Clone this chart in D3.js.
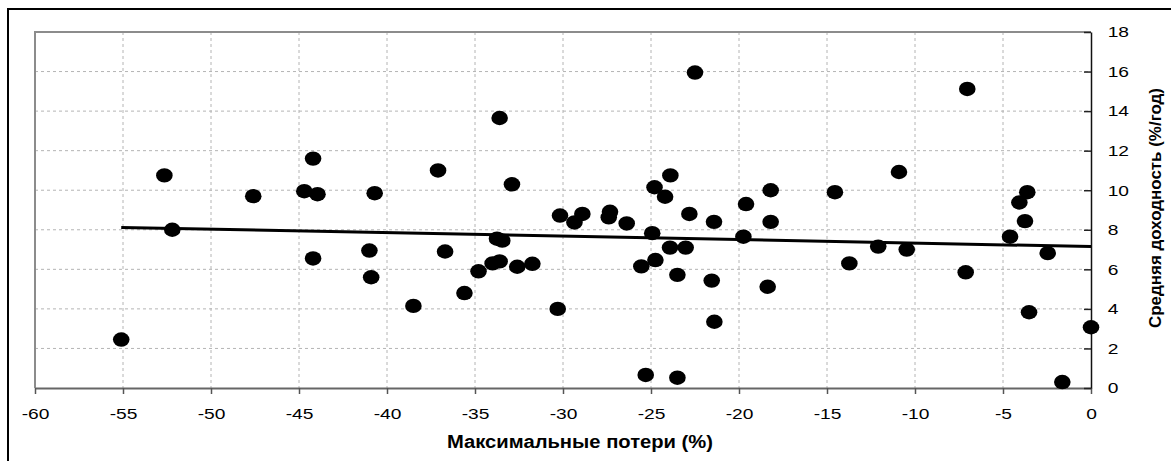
<!DOCTYPE html>
<html>
<head>
<meta charset="utf-8">
<script src="https://cdn.jsdelivr.net/npm/d3@7"></script>
<style>
  body { margin: 0; background: #fff; }
  text { font-family: "Liberation Sans", Arial, sans-serif; }
</style>
</head>
<body>
<div class="chart_wrapper"></div>
<script>
// max drawdown (%) and average return (%/year) per fund
var drawdown = [-55.1, -52.65, -52.2, -47.6, -44.7, -44.2, -43.95, -44.2, -40.7, -41.0,
  -40.9, -38.5, -37.1, -36.7, -35.6, -34.8, -33.6, -32.9, -33.75, -33.45,
  -34.0, -33.6, -32.6, -31.74, -30.3, -30.17, -29.35, -28.9, -27.33, -27.4,
  -26.38, -24.8, -23.9, -24.2, -22.5, -22.82, -24.93, -23.92, -23.03, -25.55,
  -24.75, -23.5, -21.42, -21.55, -21.4, -25.3, -23.5, -19.6, -19.75, -18.2,
  -18.2, -18.37, -14.55, -13.73, -12.09, -10.91, -10.47, -7.03, -7.12, -4.6,
  -4.07, -3.62, -3.75, -3.52, -2.46, -1.63, 0];
var avgReturn = [2.45, 10.75, 8.0, 9.7, 9.95, 11.6, 9.8, 6.55, 9.85, 6.95,
  5.6, 4.15, 11.0, 6.9, 4.8, 5.9, 13.65, 10.3, 7.55, 7.45,
  6.3, 6.4, 6.13, 6.28, 4.0, 8.72, 8.37, 8.8, 8.91, 8.63,
  8.32, 10.15, 10.75, 9.67, 15.95, 8.8, 7.83, 7.1, 7.1, 6.15,
  6.47, 5.72, 8.4, 5.43, 3.35, 0.66, 0.52, 9.3, 7.65, 10.0,
  8.4, 5.12, 9.9, 6.3, 7.15, 10.92, 7.0, 15.12, 5.85, 7.65,
  9.38, 9.9, 8.44, 3.83, 6.82, 0.3, 3.07];
var trendX = [-55.1, 0];
var trendY = [8.12, 7.15];
var xTicks = [-60, -55, -50, -45, -40, -35, -30, -25, -20, -15, -10, -5, 0];
var yTicks = [0, 2, 4, 6, 8, 10, 12, 14, 16, 18];

var width = 1171;
var height = 461;

var svg = d3.select('.chart_wrapper').append('svg')
  .attr('width', width).attr('height', height);

var x = d3.scaleLinear().domain([-60, 0]).range([35, 1091]);
var y = d3.scaleLinear().domain([0, 18]).range([388, 32]);

// outer frame
svg.append('rect').attr('x', 8).attr('y', 9).attr('width', width).attr('height', height)
  .attr('fill', 'none').attr('stroke', '#000').attr('stroke-width', 2);

// grid
svg.append('g').selectAll('line').data(xTicks.slice(1, -1)).enter().append('line')
  .attr('x1', function (d) { return x(d); }).attr('x2', function (d) { return x(d); })
  .attr('y1', y(18)).attr('y2', y(0))
  .attr('stroke', '#b4b4b4').attr('stroke-dasharray', '3,3');
svg.append('g').selectAll('line').data(yTicks.slice(1, -1)).enter().append('line')
  .attr('x1', x(-60)).attr('x2', x(0))
  .attr('y1', function (d) { return y(d); }).attr('y2', function (d) { return y(d); })
  .attr('stroke', '#b4b4b4').attr('stroke-dasharray', '3,3');

// plot box top and left
svg.append('path')
  .attr('d', 'M' + x(-60) + ',' + y(0) + 'V' + y(18) + 'H' + x(0))
  .attr('fill', 'none').attr('stroke', '#8c8c8c').attr('stroke-width', 2);

// x axis
var xAxis = svg.append('g').attr('transform', 'translate(0,' + y(0) + ')')
  .call(d3.axisBottom(x).tickValues(xTicks).tickSize(6).tickSizeOuter(0).tickPadding(14)
    .tickFormat(function (d) { return String(d); }));
xAxis.select('.domain').attr('stroke', '#666').attr('stroke-width', 2);
xAxis.selectAll('.tick line').attr('stroke', '#555').attr('stroke-width', 1.5);
xAxis.selectAll('.tick text').attr('font-size', 15).attr('fill', '#000')
  .attr('transform', 'scale(1.28,1)').attr('font-family', '"Liberation Sans", Arial, sans-serif');

// y axis on the right, ticks inward
var yAxis = svg.append('g').attr('transform', 'translate(' + x(0) + ',0)')
  .call(d3.axisRight(y).tickValues(yTicks).tickSize(-7).tickSizeOuter(0).tickPadding(13));
yAxis.select('.domain').attr('stroke', '#111').attr('stroke-width', 1.5);
yAxis.selectAll('.tick line').attr('stroke', '#222').attr('stroke-width', 1.5);
yAxis.selectAll('.tick text').attr('font-size', 15).attr('fill', '#000')
  .attr('transform', 'scale(1.28,1)').attr('font-family', '"Liberation Sans", Arial, sans-serif');

// trend line
svg.append('line')
  .attr('x1', x(trendX[0])).attr('y1', y(trendY[0]))
  .attr('x2', x(trendX[1])).attr('y2', y(trendY[1]))
  .attr('stroke', '#000').attr('stroke-width', 3);

// points
svg.append('g').selectAll('ellipse').data(drawdown).enter().append('ellipse')
  .attr('cx', function (d) { return x(d); })
  .attr('cy', function (d, i) { return y(avgReturn[i]); })
  .attr('rx', 8.3).attr('ry', 7.2)
  .attr('fill', '#000');

// axis titles
svg.append('text').attr('x', 580).attr('y', 448)
  .attr('text-anchor', 'middle').attr('font-weight', 'bold').attr('font-size', 18)
  .attr('textLength', 266).attr('lengthAdjust', 'spacingAndGlyphs')
  .text('Максимальные потери (%)');

svg.append('text')
  .attr('transform', 'translate(1161,208) rotate(-90)')
  .attr('text-anchor', 'middle').attr('font-weight', 'bold').attr('font-size', 17)
  .attr('textLength', 240).attr('lengthAdjust', 'spacingAndGlyphs')
  .text('Средняя доходность (%/год)');
</script>
</body>
</html>
